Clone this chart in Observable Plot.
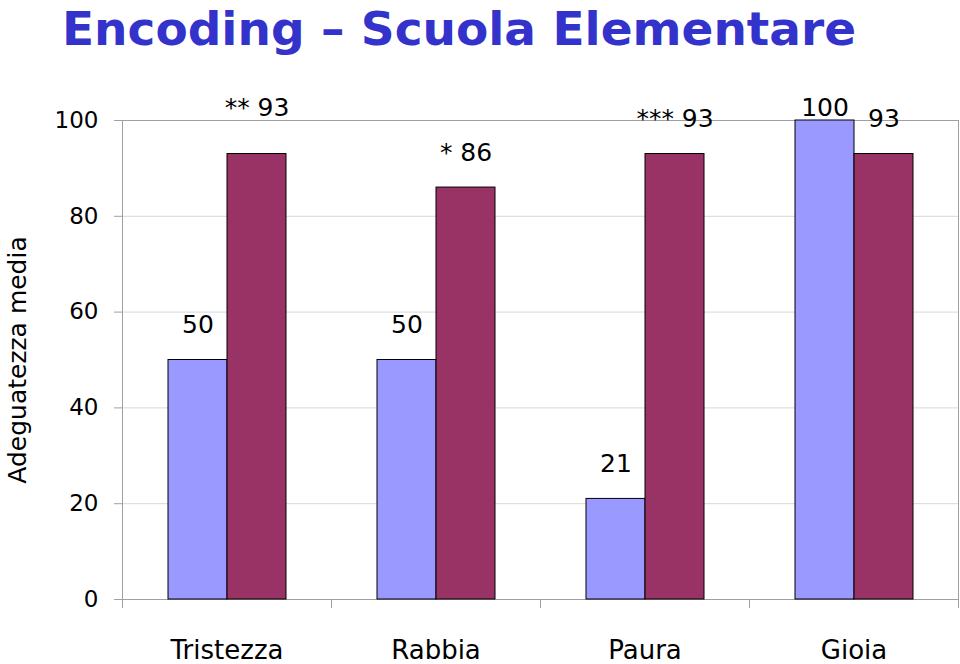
<!DOCTYPE html>
<html><head><meta charset="utf-8">
<script src="https://cdn.jsdelivr.net/npm/d3@7"></script>
<script src="https://cdn.jsdelivr.net/npm/@observablehq/plot@0.6"></script>
<style>
body{margin:0;background:#fff;}
#title{height:70px;padding-left:62px;font-family:"Comic Sans MS","DejaVu Sans",sans-serif;font-weight:bold;font-size:47px;color:#3333CC;line-height:58px;white-space:nowrap;box-sizing:border-box;overflow:visible;}
</style></head><body>
<div id="title">Encoding – Scuola Elementare</div>
<div id="chart"></div>
<script>
const categories = ["Tristezza", "Rabbia", "Paura", "Gioia"];
const series = ["Serie 1", "Serie 2"];
const valuesA = [50, 50, 21, 100];
const valuesB = [93, 86, 93, 93];
const labelsA = ["50", "50", "21", "100"];
const labelsB = ["** 93", "* 86", "*** 93", "93"];
const yTicks = [0, 20, 40, 60, 80, 100];

const rows = categories.flatMap((c, i) => [
  {cat: c, serie: series[0], value: valuesA[i], label: labelsA[i]},
  {cat: c, serie: series[1], value: valuesB[i], label: labelsB[i]}
]);

const FONT = '"Comic Sans MS","DejaVu Sans",sans-serif';
const AXIS = "#a0a0a0";
const isHigh = d => d.cat === "Tristezza" && d.serie === series[1];
const isTop = d => d.value === 100;

const plot = Plot.plot({
  width: 960, height: 594,
  marginTop: 50, marginBottom: 65, marginLeft: 121, marginRight: 2,
  style: {fontFamily: FONT, fontSize: "24px", background: "#fff", color: "#000"},
  fx: {domain: categories, padding: 0, label: null},
  x: {domain: series, paddingInner: 0, paddingOuter: 0.75, axis: null},
  y: {domain: [0, 100], axis: null},
  color: {domain: series, range: ["#9999FF", "#993366"]},
  marks: [
    Plot.gridY(yTicks.filter(t => t > 0 && t < 100), {stroke: "#d8d8d8", strokeOpacity: 1}),
    Plot.ruleY([0, 100], {stroke: AXIS}),
    Plot.frame({anchor: "left", stroke: AXIS, facetAnchor: "left"}),
    Plot.frame({anchor: "right", stroke: AXIS, facetAnchor: "right"}),
    Plot.frame({anchor: "left", stroke: AXIS, insetTop: 479, insetBottom: -8}),
    Plot.frame({anchor: "right", stroke: AXIS, insetTop: 479, insetBottom: -8, facetAnchor: "right"}),
    Plot.barY(rows, {fx: "cat", x: "serie", y: "value", fill: "serie", stroke: "#000", strokeWidth: 1}),
    Plot.text(rows, {filter: d => !isHigh(d) && !isTop(d), fx: "cat", x: "serie", y: "value", text: "label", dy: -35, fontSize: 25, fill: "#000"}),
    Plot.text(rows, {filter: isHigh, fx: "cat", x: "serie", y: "value", text: "label", dy: -46, fontSize: 25, fill: "#000"}),
    Plot.text(rows, {filter: isTop, fx: "cat", x: "serie", y: "value", text: "label", dy: -13, fontSize: 25, fill: "#000"}),
    Plot.axisY(yTicks, {anchor: "left", tickSize: 8, tickPadding: 16, stroke: AXIS, fill: "#000", fontSize: 23, label: null}),
    Plot.axisFx({anchor: "bottom", tickSize: 0, tickPadding: 41, label: null, fontSize: 26, fill: "#000"}),
    Plot.text(["Adeguatezza media"], {frameAnchor: "left", textAnchor: "middle", rotate: -90, dx: -105, facetAnchor: "left", fontSize: 25, fill: "#000"})
  ]
});
document.getElementById("chart").appendChild(plot);
</script>
</body></html>
